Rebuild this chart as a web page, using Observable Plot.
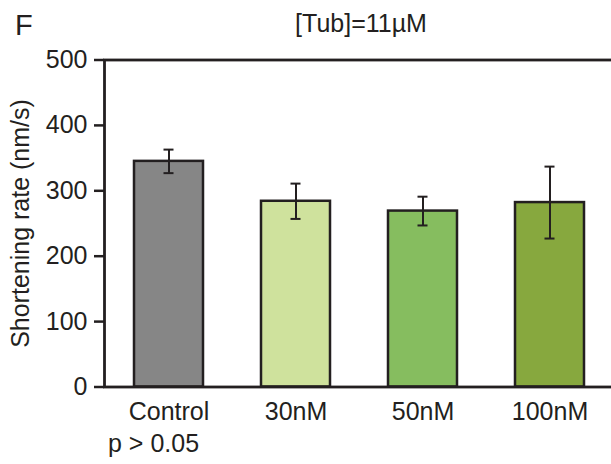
<!DOCTYPE html>
<html>
<head>
<meta charset="utf-8">
<script src="https://cdn.jsdelivr.net/npm/d3@7"></script>
<script src="https://cdn.jsdelivr.net/npm/@observablehq/plot@0.6"></script>
<style>
  html, body { margin: 0; padding: 0; background: #fff; }
  #wrap { position: relative; width: 611px; height: 464px; font-family: 'Liberation Sans', Arial, sans-serif; color: #231f20; }
  #wrap svg { position: absolute; left: 0; top: 0; }
  .lbl { position: absolute; line-height: 1; white-space: nowrap; }
</style>
</head>
<body>
<div id="wrap">
  <div class="lbl" id="panel" style="left:15px; top:11px; font-size:29px;">F</div>
  <div class="lbl" id="title" style="left:361px; top:11px; font-size:25px; transform:translateX(-50%);">[Tub]=11µM</div>
  <div class="lbl" id="pval" style="left:108px; top:431px; font-size:25px;">p &gt; 0.05</div>
</div>
<script>
const categories = ["Control", "30nM", "50nM", "100nM"];
const means = [345, 284, 269, 282];
const errors = [18, 27, 22, 55];
const colors = ["#868686", "#cfe29d", "#86bd5f", "#87a83e"];
const yTicks = [0, 100, 200, 300, 400, 500];

const data = categories.map((c, i) => ({
  cat: c, mean: means[i], lo: means[i] - errors[i], hi: means[i] + errors[i]
}));

const ink = "#231f20";

const chart = Plot.plot({
  width: 611,
  height: 464,
  marginTop: 59.5,
  marginBottom: 77.5,
  marginLeft: 104,
  marginRight: -2,
  style: { fontFamily: "'Liberation Sans', Arial, sans-serif", fontSize: "25px", color: ink, background: "transparent", overflow: "visible" },
  x: { domain: categories, paddingInner: 0.46, paddingOuter: 0.23, axis: null },
  y: { domain: [0, 500], axis: null },
  color: { domain: categories, range: colors },
  marks: [
    Plot.barY(data, { x: "cat", y: "mean", fill: "cat", stroke: ink, strokeWidth: 2.5 }),
    Plot.ruleX(data, { x: "cat", y1: "lo", y2: "hi", stroke: ink, strokeWidth: 2 }),
    Plot.tickY(data, { x: "cat", y: "lo", stroke: ink, strokeWidth: 2, insetLeft: 29.5, insetRight: 29.5 }),
    Plot.tickY(data, { x: "cat", y: "hi", stroke: ink, strokeWidth: 2, insetLeft: 29.5, insetRight: 29.5 }),
    Plot.axisY({ ticks: yTicks, tickSize: 10, tickPadding: 7, tickFormat: d => String(d), strokeWidth: 2.5, fontSize: 25,
      label: "Shortening rate (nm/s)", labelAnchor: "center", labelArrow: "none", labelOffset: 93 }),
    Plot.axisX({ tickSize: 0, tickPadding: 15, fontSize: 25, label: null }),
    Plot.frame({ stroke: ink, strokeWidth: 2.8 })
  ]
});

document.getElementById("wrap").prepend(chart);
</script>
</body>
</html>
